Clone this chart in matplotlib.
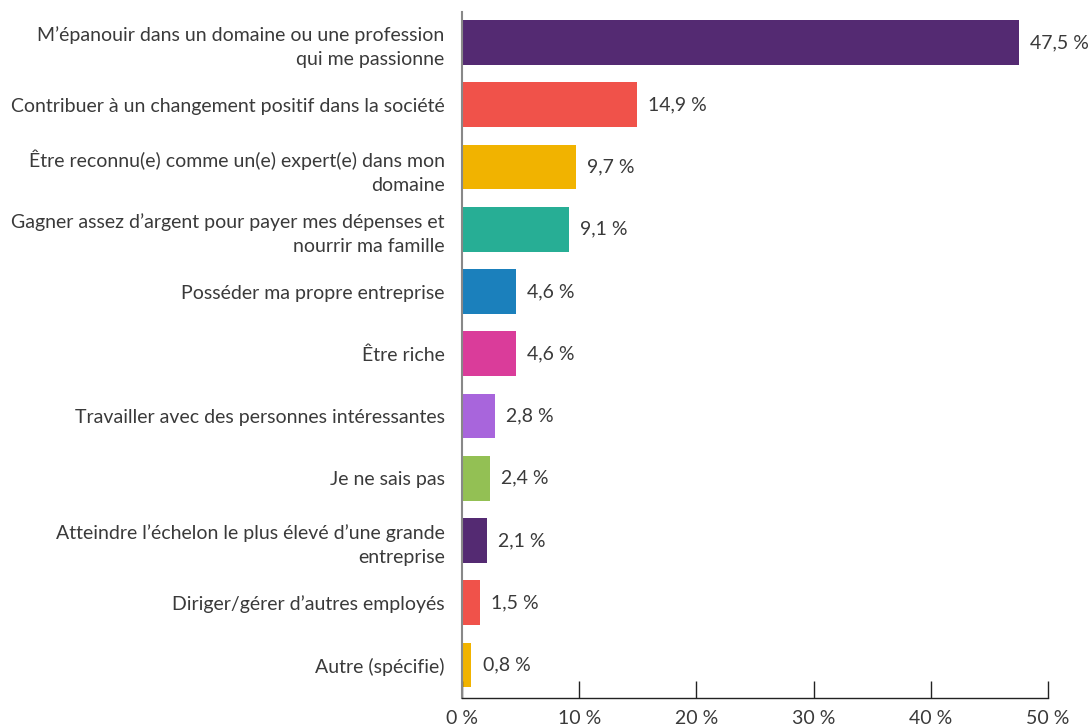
import matplotlib
matplotlib.use("Agg")
import matplotlib.pyplot as plt

plt.rcParams['font.family'] = ['Lato', 'DejaVu Sans']

categories = [
    "M’épanouir dans un domaine ou une profession\nqui me passionne",
    "Contribuer à un changement positif dans la société",
    "Être reconnu(e) comme un(e) expert(e) dans mon\ndomaine",
    "Gagner assez d’argent pour payer mes dépenses et\nnourrir ma famille",
    "Posséder ma propre entreprise",
    "Être riche",
    "Travailler avec des personnes intéressantes",
    "Je ne sais pas",
    "Atteindre l’échelon le plus élevé d’une grande\nentreprise",
    "Diriger/gérer d’autres employés",
    "Autre (spécifie)",
]
values = [47.5, 14.9, 9.7, 9.1, 4.6, 4.6, 2.8, 2.4, 2.1, 1.5, 0.8]
colors = ["#542A72", "#F0524A", "#F1B300", "#27AE95", "#1B80BC",
          "#DA3C9A", "#A865DC", "#93C054", "#542A72", "#F0524A", "#F1B300"]
ticks = [0, 10, 20, 30, 40, 50]

txt = "#3a3a3a"
fs = 14
fig = plt.figure(figsize=(10.91, 7.28), dpi=100)
ax = fig.add_axes([462/1091, 1 - 698/728, (1048 - 462)/1091, (698 - 12)/728])

pos = list(range(len(values)))
ax.barh(pos, values, height=0.72, color=colors)
for p, v in zip(pos, values):
    ax.text(v + 0.95, p, f"{v:.1f} %".replace(".", ","), va="center", ha="left",
            fontsize=fs, color=txt)

ax.set_ylim(10.53, -0.49)
ax.set_xlim(0, 50)
ax.set_yticks(pos)
ax.set_yticklabels(categories, fontsize=fs, color=txt, linespacing=1.5)
ax.set_xticks(ticks)
ax.set_xticklabels([f"{t} %" for t in ticks], fontsize=fs, color=txt)
ax.tick_params(axis="y", length=0, pad=12.5)
ax.tick_params(axis="x", direction="in", length=12.5, width=1, color="#222222", pad=8.5)

for s in ["top", "right"]:
    ax.spines[s].set_visible(False)
ax.spines["left"].set_color("#888888")
ax.spines["left"].set_linewidth(1.5)
ax.spines["bottom"].set_color("#222222")
ax.spines["bottom"].set_linewidth(1)

fig.savefig("out.png", dpi=100)
